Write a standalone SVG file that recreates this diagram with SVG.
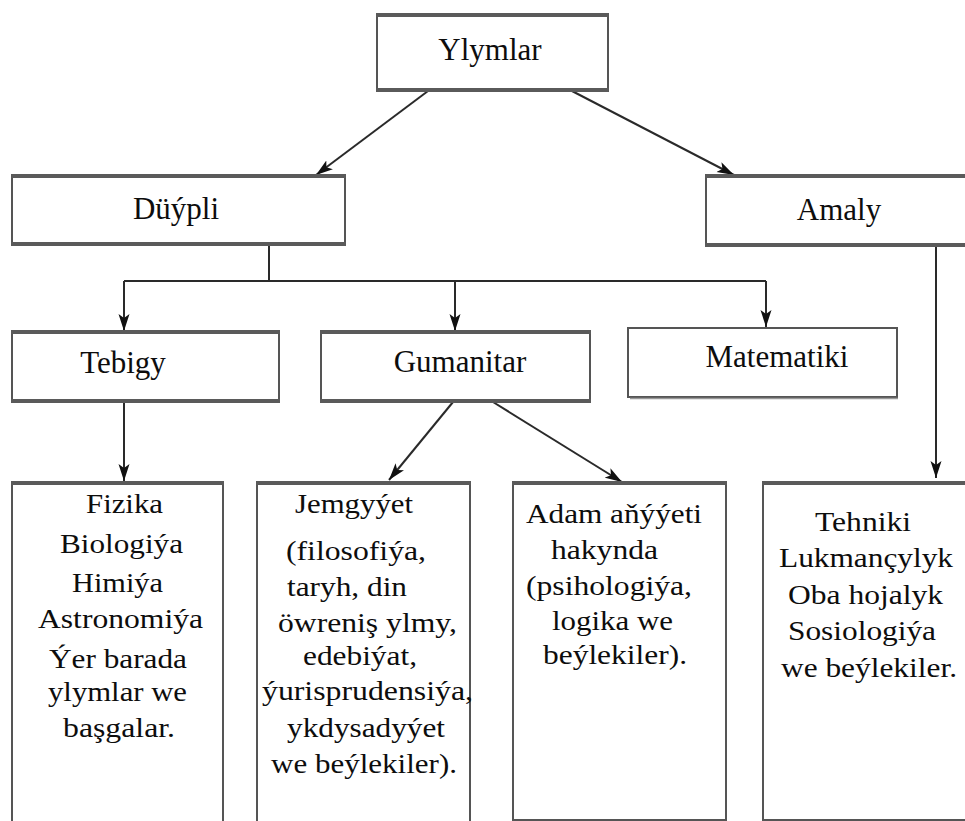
<svg xmlns="http://www.w3.org/2000/svg" width="965" height="821" viewBox="0 0 965 821">
<style>
.box{fill:#fff;stroke:#555;stroke-width:2}
.bar{stroke:#5a5a5a;stroke-width:4}
.lbl{font-family:"Liberation Serif","Times New Roman",serif;font-size:31px;fill:#0d0d0d;text-anchor:middle}
.lst{font-family:"Liberation Serif","Times New Roman",serif;font-size:28px;fill:#0d0d0d}
.con{fill:none;stroke:#2a2a2a;stroke-width:2}
</style>
<defs>
<marker id="ah" markerUnits="userSpaceOnUse" markerWidth="18" markerHeight="12" refX="17" refY="6" orient="auto">
<path d="M0,0.5 L17,6 L0,11.5 L4,6 z" fill="#111"/>
</marker>
</defs>
<rect width="965" height="821" fill="#fff"/>

<g id="connectors">
<line class="con" x1="428" y1="91" x2="316" y2="175" marker-end="url(#ah)"/>
<line class="con" x1="572" y1="91" x2="734" y2="175" marker-end="url(#ah)"/>
<polyline class="con" points="269,245 269,281"/>
<polyline class="con" points="124,281 766,281"/>
<line class="con" x1="124" y1="281" x2="124" y2="331" marker-end="url(#ah)"/>
<line class="con" x1="455" y1="281" x2="455" y2="331" marker-end="url(#ah)"/>
<line class="con" x1="766" y1="281" x2="766" y2="327" marker-end="url(#ah)"/>
<line class="con" x1="936" y1="246" x2="936" y2="478" marker-end="url(#ah)"/>
<line class="con" x1="124" y1="402" x2="124" y2="481" marker-end="url(#ah)"/>
<line class="con" x1="453" y1="402" x2="389" y2="480" marker-end="url(#ah)"/>
<line class="con" x1="493" y1="402" x2="622" y2="482" marker-end="url(#ah)"/>
</g>

<g id="ylymlar">
<rect class="box" x="377" y="15" width="231" height="75"/>
<line class="bar" x1="376" y1="15" x2="609" y2="15"/>
<line class="bar" x1="376" y1="90" x2="609" y2="90"/>
<text class="lbl" x="490" y="60">Ylymlar</text>
</g>

<g id="duypli">
<rect class="box" x="12" y="176" width="333" height="68"/>
<line class="bar" x1="11" y1="176" x2="346" y2="176"/>
<line class="bar" x1="11" y1="244" x2="346" y2="244"/>
<text class="lbl" x="176" y="219">Düýpli</text>
</g>

<g id="amaly">
<rect class="box" x="706" y="176" width="270" height="69"/>
<line class="bar" x1="705" y1="176" x2="965" y2="176"/>
<line class="bar" x1="705" y1="245" x2="965" y2="245"/>
<text class="lbl" x="839" y="220">Amaly</text>
</g>

<g id="tebigy">
<rect class="box" x="12" y="332" width="267" height="69"/>
<line class="bar" x1="11" y1="332" x2="280" y2="332"/>
<line class="bar" x1="11" y1="401" x2="280" y2="401"/>
<text class="lbl" x="123" y="373">Tebigy</text>
</g>

<g id="gumanitar">
<rect class="box" x="321" y="332" width="269" height="69"/>
<line class="bar" x1="320" y1="332" x2="591" y2="332"/>
<line class="bar" x1="320" y1="401" x2="591" y2="401"/>
<text class="lbl" x="460" y="372">Gumanitar</text>
</g>

<g id="matematiki">
<rect class="box" x="628" y="328" width="269" height="69"/>
<line x1="630" y1="398.5" x2="898" y2="398.5" stroke="#999" stroke-width="1.5"/>
<text class="lbl" x="777" y="367">Matematiki</text>
</g>

<g id="fizika">
<rect class="box" x="12" y="483" width="211" height="360"/>
<line class="bar" x1="11" y1="483" x2="224" y2="483"/>
<text class="lst" x="86" y="513" textLength="77" lengthAdjust="spacingAndGlyphs">Fizika</text>
<text class="lst" x="60" y="553" textLength="123" lengthAdjust="spacingAndGlyphs">Biologiýa</text>
<text class="lst" x="72" y="592" textLength="91" lengthAdjust="spacingAndGlyphs">Himiýa</text>
<text class="lst" x="38" y="628" textLength="165" lengthAdjust="spacingAndGlyphs">Astronomiýa</text>
<text class="lst" x="49" y="668" textLength="138" lengthAdjust="spacingAndGlyphs">Ýer barada</text>
<text class="lst" x="48" y="701" textLength="139" lengthAdjust="spacingAndGlyphs">ylymlar we</text>
<text class="lst" x="63" y="737" textLength="112" lengthAdjust="spacingAndGlyphs">başgalar.</text>
</g>

<g id="jemgyyet">
<rect class="box" x="257" y="483" width="213" height="360"/>
<line class="bar" x1="256" y1="483" x2="471" y2="483"/>
<text class="lst" x="295" y="513" textLength="118" lengthAdjust="spacingAndGlyphs">Jemgyýet</text>
<text class="lst" x="286" y="560" textLength="140" lengthAdjust="spacingAndGlyphs">(filosofiýa,</text>
<text class="lst" x="287" y="596" textLength="120" lengthAdjust="spacingAndGlyphs">taryh, din</text>
<text class="lst" x="278" y="632" textLength="179" lengthAdjust="spacingAndGlyphs">öwreniş ylmy,</text>
<text class="lst" x="303" y="665" textLength="114" lengthAdjust="spacingAndGlyphs">edebiýat,</text>
<text class="lst" x="262" y="700" textLength="211" lengthAdjust="spacingAndGlyphs">ýurisprudensiýa,</text>
<text class="lst" x="287" y="737" textLength="158" lengthAdjust="spacingAndGlyphs">ykdysadyýet</text>
<text class="lst" x="271" y="773" textLength="186" lengthAdjust="spacingAndGlyphs">we beýlekiler).</text>
</g>

<g id="adam">
<rect class="box" x="513" y="483" width="213" height="337"/>
<line class="bar" x1="512" y1="483" x2="727" y2="483"/>
<text class="lst" x="526" y="523" textLength="176" lengthAdjust="spacingAndGlyphs">Adam aňýýeti</text>
<text class="lst" x="551" y="559" textLength="107" lengthAdjust="spacingAndGlyphs">hakynda</text>
<text class="lst" x="526" y="595" textLength="166" lengthAdjust="spacingAndGlyphs">(psihologiýa,</text>
<text class="lst" x="552" y="630" textLength="121" lengthAdjust="spacingAndGlyphs">logika we</text>
<text class="lst" x="543" y="664" textLength="144" lengthAdjust="spacingAndGlyphs">beýlekiler).</text>
</g>

<g id="tehniki">
<rect class="box" x="763" y="483" width="220" height="337"/>
<line class="bar" x1="762" y1="483" x2="965" y2="483"/>
<text class="lst" x="815" y="531" textLength="96" lengthAdjust="spacingAndGlyphs">Tehniki</text>
<text class="lst" x="779" y="567" textLength="174" lengthAdjust="spacingAndGlyphs">Lukmançylyk</text>
<text class="lst" x="788" y="604" textLength="155" lengthAdjust="spacingAndGlyphs">Oba hojalyk</text>
<text class="lst" x="788" y="640" textLength="148" lengthAdjust="spacingAndGlyphs">Sosiologiýa</text>
<text class="lst" x="781" y="677" textLength="176" lengthAdjust="spacingAndGlyphs">we beýlekiler.</text>
</g>
</svg>
